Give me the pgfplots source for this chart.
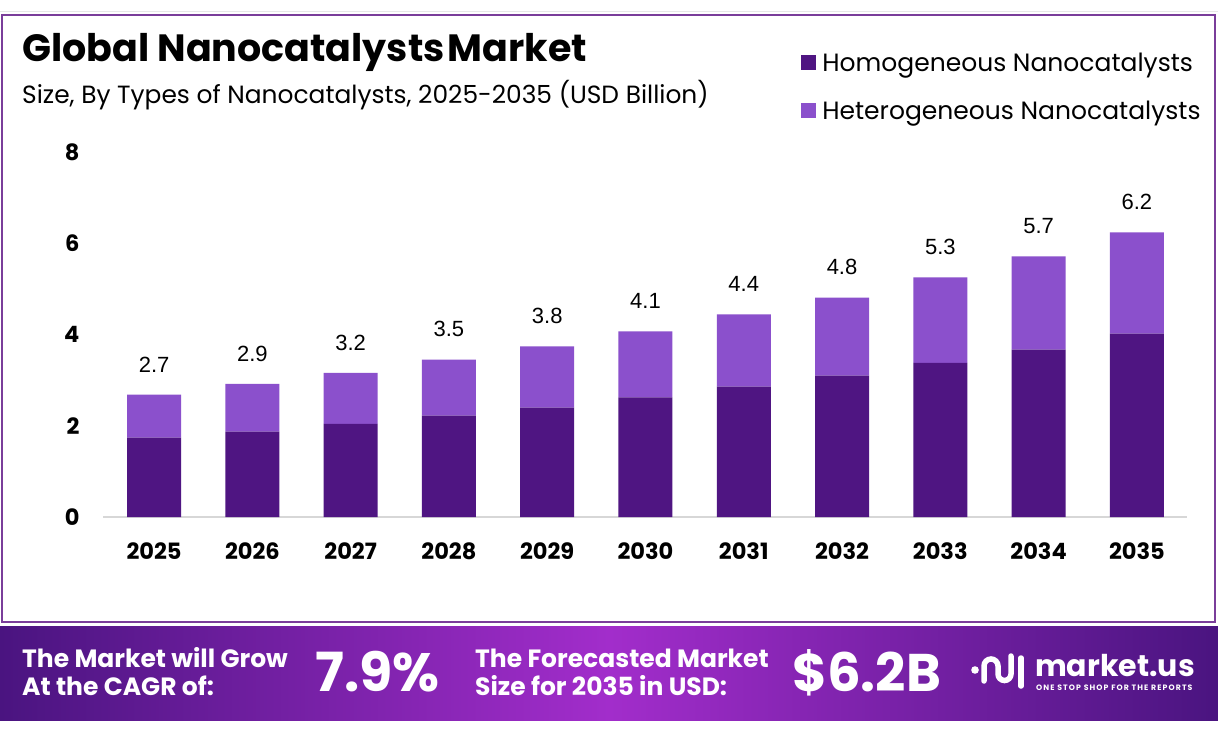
\documentclass[border=0pt]{standalone}
\usepackage{pgfplots}
\pgfplotsset{compat=1.18}
\usepackage{fontspec}
\setmainfont{Poppins}
\newfontfamily\arialf{Liberation Sans}
\newfontfamily\tagf[LetterSpace=14]{Poppins}
\definecolor{darkbar}{RGB}{79,21,130}
\definecolor{lightbar}{RGB}{139,80,204}
\definecolor{framec}{RGB}{122,61,154}
\definecolor{bandark}{RGB}{74,20,128}
\definecolor{banbright}{RGB}{162,45,203}
\definecolor{axisgray}{RGB}{215,215,215}
\pgfplotsset{myframe/.style={
  at={(103pt,220pt)}, anchor=south west,
  scale only axis, width=1084pt, height=365pt,
  xmin=-0.52, xmax=10.51, ymin=0, ymax=8}}
\begin{document}
\begin{tikzpicture}
\path[use as bounding box, fill=white] (0pt,0pt) rectangle (1218pt,737pt);
% frame
\draw[axisgray!60, line width=1pt] (0pt,725pt) -- (1218pt,725pt);
\draw[framec, line width=2.5pt] (2pt,722pt) rectangle (1215pt,115pt);
% titles
\node[anchor=base west, inner sep=0pt] at (22pt,675pt) {\fontsize{38}{42}\selectfont\bfseries Global Nanocatalysts\hspace{-5pt} Market};
\node[anchor=base west, inner sep=0pt] at (22pt,633pt) {\fontsize{24.9}{29}\selectfont Size, By Types of Nanocatalysts, 2025-2035 (USD Billion)};
\begin{axis}[
  myframe,
  ybar stacked, bar width=54pt,
  xtick=data,
  xticklabels={2025,2026,2027,2028,2029,2030,2031,2032,2033,2034,2035},
  ytick={0,2,4,6,8},
  axis x line*=bottom, axis y line*=left,
  x axis line style={draw=axisgray, line width=1.2pt, -},
  y axis line style={draw=none},
  major tick length=0pt,
  /pgf/number format/assume math mode=true,
  tick label style={font=\fontsize{22.5}{26}\selectfont\bfseries},
  xticklabel style={yshift=-22pt},
  yticklabel style={xshift=-20pt},
  legend style={draw=none, fill=none, at={(0.644,1.278)}, anchor=north west,
     font=\fontsize{25}{29}\selectfont, row sep=24pt, inner sep=0pt,
     /tikz/every odd column/.append style={column sep=4pt}},
  legend cell align=left,
  legend image code/.code={\fill[#1] (0pt,-7.5pt) rectangle (15pt,7.5pt);},
]
\addplot[fill=darkbar, draw=none] coordinates {
 (0,1.74) (1,1.87) (2,2.04) (3,2.22) (4,2.40) (5,2.62) (6,2.86) (7,3.10) (8,3.38) (9,3.67) (10,4.02)};
\addplot[fill=lightbar, draw=none] coordinates {
 (0,0.94) (1,1.05) (2,1.12) (3,1.23) (4,1.34) (5,1.45)
 (6,1.58) (7,1.71) (8,1.87) (9,2.04) (10,2.22)};
\legend{Homogeneous Nanocatalysts, Heterogeneous Nanocatalysts}
\end{axis}
% totals labels
\begin{axis}[myframe, hide axis, ybar, bar width=54pt]
\addplot[draw=none, fill=none, point meta=explicit symbolic,
  nodes near coords, every node near coord/.append style={font=\fontsize{22}{26}\selectfont\arialf, text=black, anchor=south, yshift=19pt}] coordinates {
 (0,2.68) [2.7] (1,2.92) [2.9] (2,3.16) [3.2] (3,3.45) [3.5] (4,3.74) [3.8] (5,4.07) [4.1]
 (6,4.44) [4.4] (7,4.81) [4.8] (8,5.25) [5.3] (9,5.71) [5.7] (10,6.24) [6.2]};
\end{axis}
% banner
\shade[left color=bandark, right color=bandark, middle color=banbright] (0pt,111pt) rectangle (1218pt,17pt);
\begin{scope}[text=white]
\node[anchor=base west, inner sep=0pt] at (22pt,70pt) {\fontsize{25}{28}\selectfont\bfseries The Market will Grow};
\node[anchor=base west, inner sep=0pt] at (22pt,42pt) {\fontsize{25}{28}\selectfont\bfseries At the CAGR of:};
\node[anchor=base west, inner sep=0pt] at (315pt,46pt) {\fontsize{54}{60}\selectfont\bfseries 7.9\%};
\node[anchor=base west, inner sep=0pt] at (475pt,70pt) {\fontsize{25}{28}\selectfont\bfseries The Forecasted Market};
\node[anchor=base west, inner sep=0pt] at (475pt,42pt) {\fontsize{25}{28}\selectfont\bfseries Size for 2035 in USD:};
\node[anchor=base west, inner sep=0pt] at (792pt,46pt) {\fontsize{53}{60}\selectfont\bfseries \$6.2B};
\node[anchor=base west, inner sep=0pt] at (1035pt,61pt) {\fontsize{30}{34}\selectfont\bfseries\smash{market.us}};
\node[anchor=base west, inner sep=0pt] at (1036pt,47pt) {\fontsize{7.8}{8}\selectfont\tagf\bfseries ONE STOP SHOP FOR THE REPORTS};
\end{scope}
% logo icon
\fill[white] (975pt,67pt) circle (3.8pt);
\draw[white, line width=5.5pt, line cap=round] (984pt,56pt) -- (984pt,71pt) arc (180:0:7pt) -- (998pt,63pt) arc (180:360:6.5pt) -- (1011pt,81pt);
\draw[white, line width=5.5pt, line cap=round] (1021pt,51pt) -- (1021pt,79pt);
\end{tikzpicture}
\end{document}
